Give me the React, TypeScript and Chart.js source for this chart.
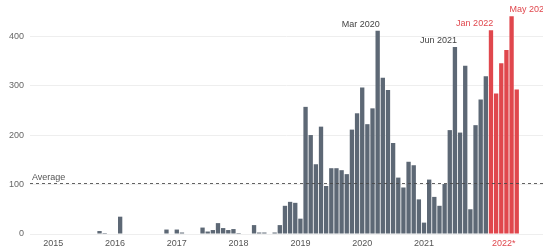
import React, { useEffect, useRef } from "react";
import { Chart, registerables } from "chart.js";

Chart.register(...registerables);

// Monthly counts, Jan 2015 .. Jun 2022
const counts2015 = [0, 0, 0, 0, 0, 1, 0, 0, 6, 2, 0, 0];
const counts2016 = [35, 0, 0, 0, 1, 1, 1, 0, 0, 9, 0, 9];
const counts2017 = [3, 0, 0, 0, 13, 5, 8, 22, 12, 8, 10, 2];
const counts2018 = [0, 0, 18, 3, 3, 0, 3, 18, 57, 65, 63, 31];
const counts2019 = [257, 200, 141, 217, 97, 133, 133, 129, 121, 211, 244, 296];
const counts2020 = [222, 254, 411, 316, 291, 184, 114, 94, 146, 139, 70, 23];
const counts2021 = [110, 75, 57, 101, 210, 378, 205, 340, 50, 220, 272, 319];
const counts2022 = [412, 284, 345, 372, 440, 292];

const monthlyCounts = [
  ...counts2015, ...counts2016, ...counts2017, ...counts2018,
  ...counts2019, ...counts2020, ...counts2021, ...counts2022,
];

const yearLabels = ["2015", "2016", "2017", "2018", "2019", "2020", "2021", "2022*"];
const yearTickPositions = [-1, 11, 23, 35, 47, 59, 71, 86.5];
const highlightStartIndex = 84; // Jan 2022
const averageValue = 104;

const callouts = [
  { index: 62, text: "Mar 2020", align: "right", highlight: false },
  { index: 77, text: "Jun 2021", align: "right", highlight: false },
  { index: 84, text: "Jan 2022", align: "right", highlight: true },
  { index: 88, text: "May 2022", align: "left", highlight: true },
];

const GREY = "#5d6875";
const RED = "#e0474d";
const FONT = "'Liberation Sans', Arial, sans-serif";

const overlayPlugin = {
  id: "overlay",
  afterDatasetsDraw(chart: any) {
    const { ctx, chartArea, scales } = chart;
    const yAvg = Math.round(scales.y.getPixelForValue(averageValue)) + 0.5;
    ctx.save();
    ctx.strokeStyle = "rgba(70,70,70,0.85)";
    ctx.lineWidth = 1;
    ctx.setLineDash([3, 3]);
    ctx.beginPath();
    ctx.moveTo(chartArea.left, yAvg);
    ctx.lineTo(chartArea.right, yAvg);
    ctx.stroke();
    ctx.setLineDash([]);
    ctx.font = `9px ${FONT}`;
    ctx.fillStyle = "#555";
    ctx.textAlign = "left";
    ctx.textBaseline = "alphabetic";
    ctx.fillText("Average", chartArea.left + 2, yAvg - 3.5);

    const meta = chart.getDatasetMeta(0);
    callouts.forEach((c) => {
      const el = meta.data[c.index];
      if (!el) return;
      const { x, y, width } = el.getProps(["x", "y", "width"], true);
      ctx.fillStyle = c.highlight ? RED : "#444";
      ctx.textAlign = c.align;
      const tx = c.align === "right" ? x + width / 2 : x - width / 2;
      ctx.fillText(c.text, tx, y - 4);
    });
    ctx.restore();
  },
};

export default function App() {
  const canvasRef = useRef<HTMLCanvasElement | null>(null);

  useEffect(() => {
    document.body.style.margin = "0";
    const canvas = canvasRef.current;
    if (!canvas) return;
    const data = monthlyCounts.map((v, i) => ({ x: i, y: v }));
    const colors = monthlyCounts.map((_, i) => (i >= highlightStartIndex ? RED : GREY));
    const chart = new Chart(canvas, {
      type: "bar",
      data: {
        datasets: [
          {
            data,
            backgroundColor: colors,
            borderWidth: 0,
            barPercentage: 0.84,
            categoryPercentage: 1,
          } as any,
        ],
      },
      options: {
        animation: false,
        responsive: false,
        devicePixelRatio: 1,
        layout: { padding: 0 },
        plugins: {
          legend: { display: false },
          tooltip: { enabled: false },
        },
        scales: {
          x: {
            type: "linear",
            offset: false,
            min: -5.5,
            max: 94.1,
            grid: { display: false, drawTicks: false },
            border: { display: false },
            afterFit(scale: any) {
              scale.height = 14;
              scale.paddingLeft = 0;
              scale.paddingRight = 0;
            },
            afterBuildTicks(scale: any) {
              scale.ticks = yearTickPositions.map((v) => ({ value: v }));
            },
            ticks: {
              autoSkip: false,
              maxRotation: 0,
              padding: 4,
              font: { size: 9, family: FONT },
              color: (ctx: any) => (ctx.index === yearLabels.length - 1 ? RED : "#555"),
              callback: (_v: any, i: number) => yearLabels[i],
            },
          },
          y: {
            type: "linear",
            min: 0,
            max: 473,
            grid: { color: "#eeeeee", drawTicks: false },
            border: { display: false },
            afterFit(scale: any) {
              scale.width = 30;
              scale.paddingTop = 0;
              scale.paddingBottom = 0;
            },
            afterBuildTicks(scale: any) {
              scale.ticks = scale.ticks.filter((t: any) => t.value % 100 === 0);
            },
            ticks: {
              stepSize: 100,
              padding: 6,
              font: { size: 9, family: FONT },
              color: "#666",
            },
          },
        },
      },
      plugins: [overlayPlugin],
    });
    return () => chart.destroy();
  }, []);

  return (
    <div style={{ width: 543, height: 248 }}>
      <canvas ref={canvasRef} width={543} height={248} style={{ display: "block" }} />
    </div>
  );
}
